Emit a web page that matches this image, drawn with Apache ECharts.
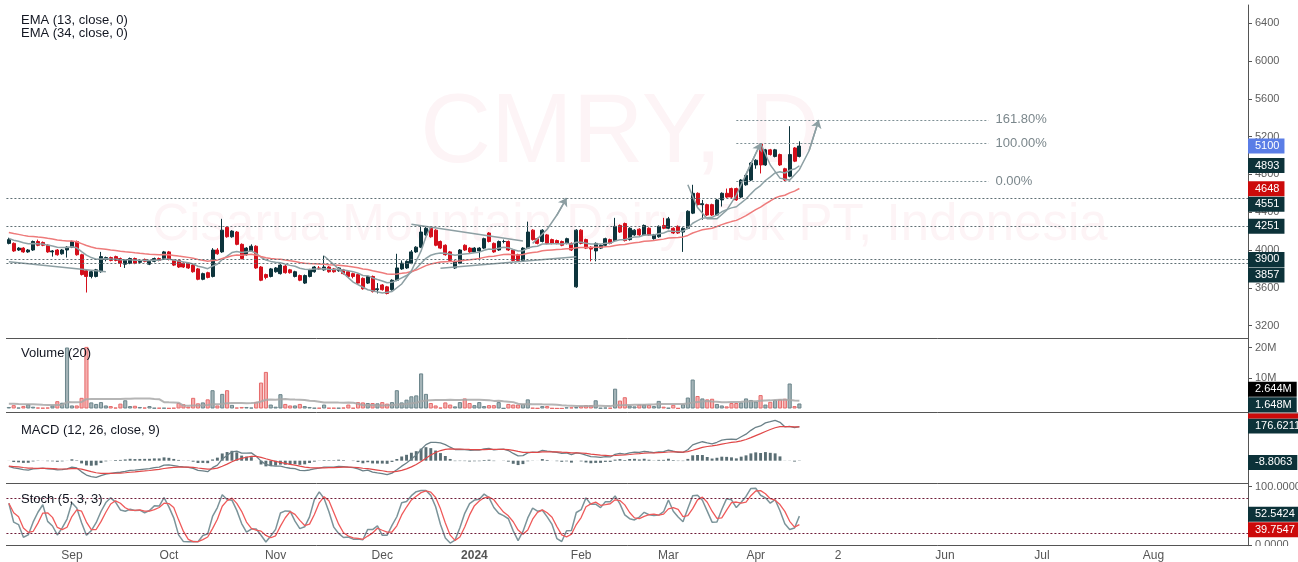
<!DOCTYPE html>
<html>
<head>
<meta charset="utf-8">
<title>CMRY, D</title>
<script src="https://cdn.jsdelivr.net/npm/echarts@6/dist/echarts.min.js"></script>
<style>
  html, body { margin: 0; padding: 0; background: #fff; }
  #chart { width: 1298px; height: 562px; }
</style>
</head>
<body>
<div id="chart"></div>
<script>
// daily bars, 14 Aug 2023 .. Apr 2024
var opens = [4070,4070,4000,4020,3980,4000,4090,4080,4050,3980,4000,3960,4000,4030,4090,3950,3780,3720,3720,3770,
  3900,3920,3930,3910,3850,3860,3910,3870,3900,3850,3880,3910,3910,3980,3890,3890,3860,3860,3840,3800,
  3690,3760,3720,4000,3980,4240,4140,4190,4060,3950,3990,4040,3820,3740,3720,3770,3750,3830,3790,3720,
  3730,3650,3720,3770,3810,3790,3820,3800,3780,3790,3770,3750,3740,3700,3650,3720,3580,3630,3610,3580,
  3680,3800,3810,3860,3980,4030,4160,4230,4210,4090,4050,3980,3810,3860,4050,4020,3980,3990,4020,4180,
  4070,4000,4090,4090,4000,3950,3890,4020,4210,4120,4090,4160,4110,4100,4090,4070,4070,3610,4210,4110,
  4030,3990,4020,4050,4110,4100,4260,4280,4110,4160,4220,4160,4230,4120,4140,4260,4230,4230,4250,4190,
  4230,4390,4600,4480,4480,4480,4370,4530,4600,4650,4650,4560,4690,4740,4900,5120,4900,5060,4990,5010,
  4860,4780,5080,4990];
var highs = [4130,4080,4030,4030,4010,4100,4110,4090,4060,4000,4010,4010,4040,4100,4100,3960,3790,3780,3800,3980,
  3930,3930,3940,3920,3900,3920,3920,3890,3910,3890,3920,3920,3990,3990,3900,3900,3870,3870,3850,3810,
  3760,3770,4020,4020,4330,4250,4210,4200,4070,4030,4060,4050,3830,3750,3810,3820,3850,3840,3800,3780,
  3740,3740,3800,3830,3830,3940,3830,3810,3820,3800,3780,3760,3750,3710,3730,3730,3650,3640,3620,3690,
  3960,3890,3890,4000,4040,4250,4250,4250,4220,4100,4060,3990,3890,4010,4060,4030,4030,4030,4130,4190,
  4080,4100,4110,4100,4010,3960,4030,4300,4220,4130,4220,4170,4120,4110,4100,4130,4080,4220,4220,4120,
  4040,4080,4060,4130,4120,4340,4270,4290,4240,4220,4230,4270,4240,4170,4260,4340,4350,4240,4260,4240,
  4420,4690,4610,4530,4490,4490,4540,4610,4650,4660,4660,4750,4800,4930,4960,5130,5070,5070,5070,5020,
  4870,5310,5090,5150];
var lows = [4060,3980,3990,3970,3970,3990,4040,4040,3970,3930,3940,3950,3920,4020,3940,3730,3550,3700,3710,3760,
  3880,3880,3880,3820,3810,3850,3850,3860,3870,3840,3870,3880,3900,3890,3830,3810,3810,3800,3760,3680,
  3680,3700,3710,3950,3970,4130,4130,4050,3900,3940,3980,3800,3670,3690,3710,3760,3740,3750,3750,3710,
  3670,3640,3710,3760,3790,3780,3760,3760,3770,3740,3710,3700,3640,3580,3640,3550,3540,3570,3530,3570,
  3670,3790,3800,3850,3970,4020,4150,4130,4040,4010,3940,3880,3800,3850,3990,3970,3970,3890,4010,4080,
  3970,3990,4070,3990,3880,3880,3880,4010,4100,4060,4080,4060,4060,4060,4040,4060,3990,3600,4060,4010,
  3880,3880,4010,4040,4060,4090,4180,4090,4100,4150,4150,4150,4150,4110,4130,4220,4220,4170,4170,3980,
  4220,4380,4470,4320,4360,4360,4360,4460,4550,4550,4520,4550,4680,4730,4860,4810,4890,5000,4980,4890,
  4730,4770,4930,4980];
var closes = [4110,3990,4020,3980,4000,4090,4050,4050,3980,3990,3950,4000,4030,4090,3950,3740,3720,3770,3790,3930,
  3920,3890,3890,3860,3890,3910,3860,3880,3880,3880,3910,3890,3980,3900,3840,3820,3820,3810,3770,3690,
  3750,3710,4000,3960,4210,4140,4200,4060,3910,4020,4040,3810,3680,3710,3800,3810,3840,3760,3760,3770,
  3680,3730,3790,3820,3800,3820,3770,3770,3810,3750,3720,3720,3650,3590,3720,3560,3590,3580,3540,3680,
  3810,3860,3880,3980,4030,4190,4230,4140,4050,4020,3950,3890,3880,4000,4000,3980,4020,4020,4120,4090,
  3980,4090,4090,4000,3890,3890,4020,4190,4110,4070,4210,4070,4070,4070,4050,4120,4000,4210,4070,4020,
  4010,4070,4050,4120,4070,4250,4190,4100,4230,4210,4160,4260,4160,4160,4250,4230,4330,4180,4180,4230,
  4410,4600,4480,4490,4370,4370,4530,4600,4560,4560,4530,4740,4790,4920,4950,4900,5060,5010,5060,4900,
  4740,5010,4940,5100];
// volume in millions of shares
var volumes = [0.5,1.1,0.3,0.8,1.4,0.6,0.3,0.2,0.3,1.0,2.4,1.9,20.0,1.0,1.0,3.5,20.2,2.0,1.5,2.1,
  1.0,0.8,0.3,1.6,2.7,0.8,0.9,0.5,0.3,0.8,0.2,0.2,0.2,0.1,0.2,1.8,1.4,0.6,3.5,1.7,
  2.0,3.0,6.0,1.0,4.8,6.0,1.2,0.3,0.5,0.5,0.3,2.2,8.5,12.0,1.3,0.6,4.7,1.5,1.0,1.0,
  1.5,0.8,0.5,0.2,0.2,1.3,0.2,0.2,0.2,0.3,1.3,0.2,2.1,2.0,1.8,1.8,1.7,2.1,1.6,2.1,
  6.0,2.0,2.9,4.0,4.3,11.5,4.8,1.8,1.0,0.3,2.0,1.3,0.7,2.1,3.3,1.8,1.1,2.1,0.8,1.1,
  1.1,2.1,0.1,1.5,1.3,1.3,1.5,3.0,0.2,0.1,0.8,0.8,0.1,0.05,0.05,0.4,0.4,0.5,0.8,1.1,
  1.1,2.7,0.2,0.3,0.2,6.5,2.6,3.7,1.0,0.7,1.3,1.3,1.2,0.8,2.5,0.6,0.2,1.2,0.1,1.4,
  3.6,9.5,4.1,3.3,3.0,3.2,1.5,1.0,0.7,1.8,1.8,2.0,3.3,2.8,2.3,4.4,1.3,2.2,2.8,3.0,
  3.2,8.2,0.8,1.648];

// values of the indicators just before the first visible bar
var ema13Seed = 4125, ema34Seed = 4190, ema12Seed = 4120, ema26Seed = 4150, signalSeed = -28, volMaSeed = 1.6;

var priceTicks = [3200, 3600, 4000, 4400, 4800, 5200, 5600, 6000, 6400];
var volTicks = [10, 20];
var stochTicks = [0, 100];
var levelLines = [4551, 4251, 3900, 3857];
var fibLevels = [[5377, '161.80%'], [5130, '100.00%'], [4730, '0.00%']];
var monthLabels = {13: 'Sep', 33: 'Oct', 55: 'Nov', 77: 'Dec', 96: '2024', 118: 'Feb', 136: 'Mar', 154: 'Apr',
  171: '2', 193: 'Jun', 213: 'Jul', 236: 'Aug'};

// hand drawn annotations, [bar index, price]
var plainDrawings = [
  [[0, 3876], [20, 3770]],
  [[83, 4272], [106, 4095]],
  [[89, 3806], [117, 3929]],
  [[65, 3936], [68, 3800], [71, 3660], [74, 3580], [77, 3545], [79, 3560], [81, 3640], [83, 3780], [85, 3990], [86, 4140], [87, 4250]]
];
var arrowDrawings = [
  [[108, 4070], [111, 4220], [113, 4370], [115, 4550]],
  [[140, 4690], [142, 4450], [144, 4330], [146, 4330], [148, 4420], [150, 4580], [152, 4800], [155, 5130]],
  [[155, 5130], [157, 4900], [159, 4760], [161, 4740], [163, 4850], [165, 5050], [167, 5376]]
];

var priceMarks = [[5100, '5100', '#5a7de6'], [4893, '4893', '#0c3239'], [4648, '4648', '#cc0a0a'],
  [4551, '4551', '#0c3239'], [4251, '4251', '#0c3239'], [3900, '3900', '#0c3239'], [3857, '3857', '#0c3239']];
var volMarks = [[2.644, '2.644M', '#000000'], [1.648, '1.648M', '#0c3239']];
var macdMarks = [[176.6211, '176.6211', '#0c3239'], [-8.8063, '-8.8063', '#0c3239']];
var stochMarks = [[52.5424, '52.5424', '#0c3239'], [39.7547, '39.7547', '#cc0a0a']];

var FONT = '"Liberation Sans", Arial, sans-serif';
var UP = '#0d343c', DOWN = '#d40f1b';
var SLOTS = 256;
var cats = [];
for (var s = 0; s < SLOTS; s++) cats.push(String(s));

function ema(src, n, seed) {
  var k = 2 / (n + 1), prev = seed;
  return src.map(function (v) { prev = prev + k * (v - prev); return prev; });
}
function smaPartial(src, n) {
  return src.map(function (v, i) {
    var a = src.slice(Math.max(0, i - n + 1), i + 1);
    return a.reduce(function (x, y) { return x + y; }, 0) / a.length;
  });
}

var ema13 = ema(closes, 13, ema13Seed);
var ema34 = ema(closes, 34, ema34Seed);
var ema12 = ema(closes, 12, ema12Seed);
var ema26 = ema(closes, 26, ema26Seed);
var macd = ema12.map(function (v, i) { return v - ema26[i]; });
var signal = ema(macd, 9, signalSeed);
var hist = macd.map(function (v, i) { return v - signal[i]; });
var rawK = closes.map(function (c, i) {
  var st = Math.max(0, i - 4);
  var hh = Math.max.apply(null, highs.slice(st, i + 1));
  var ll = Math.min.apply(null, lows.slice(st, i + 1));
  return hh === ll ? 50 : (c - ll) / (hh - ll) * 100;
});
var stochK = smaPartial(rawK, 3);
var stochD = smaPartial(stochK, 3);
var volMA = volumes.map(function (v, i) {
  var sum = 0;
  for (var j = i - 19; j <= i; j++) sum += j < 0 ? volMaSeed : volumes[j];
  return sum / 20;
});

var candles = opens.map(function (o, i) { return [o, closes[i], lows[i], highs[i]]; });
var volBars = volumes.map(function (v, i) {
  var up = closes[i] >= opens[i];
  return { value: v, itemStyle: up
    ? { color: 'rgba(90,118,126,0.55)', borderColor: '#6b858b', borderWidth: 1 }
    : { color: 'rgba(236,110,110,0.55)', borderColor: '#e66a6a', borderWidth: 1 } };
});
// the last leg of every arrow drawing carries the arrow head
var arrowHeads = arrowDrawings.map(function (p) { return { coords: [p[p.length - 2], p[p.length - 1]] }; });

var chart = echarts.init(document.getElementById('chart'), null, { renderer: 'canvas' });

var L = 6.42, R = 50;
function gridAt(top, height) {
  return { left: L, right: R, top: top, height: height, containLabel: false, outerBoundsMode: 'none' };
}
function xAx(k, withLabels) {
  return {
    type: 'category', gridIndex: k, data: cats, boundaryGap: true, position: 'bottom',
    axisLine: { show: true, onZero: false, lineStyle: { color: '#555', width: 1 } },
    axisTick: { show: false },
    splitLine: { show: false },
    axisLabel: withLabels ? {
      show: true,
      interval: function (idx) { return monthLabels[idx] !== undefined; },
      formatter: function (v, idx) { var t = monthLabels[idx] || ''; return t === '2024' ? '{y|2024}' : t; },
      color: '#555', fontSize: 12, margin: 4, fontFamily: FONT,
      rich: { y: { fontWeight: 'bold', color: '#555', fontSize: 12, fontFamily: FONT } }
    } : { show: false }
  };
}
function yAx(k, min, max, ticks, fmt) {
  return {
    type: 'value', gridIndex: k, position: 'right', min: min, max: max,
    axisLine: { show: true, onZero: false, lineStyle: { color: '#555', width: 1 } },
    axisTick: ticks ? { show: true, length: 4, lineStyle: { color: '#555' }, customValues: ticks } : { show: false },
    axisLabel: ticks ? { show: true, color: '#5e5e5e', fontSize: 11, margin: 7, fontFamily: FONT, customValues: ticks, formatter: fmt } : { show: false },
    splitLine: { show: false }
  };
}

var dash = [2, 2];
var option = {
  animation: false,
  backgroundColor: '#ffffff',
  grid: [gridAt(5, 333), gridAt(338, 74.5), gridAt(413, 70), gridAt(483.3, 62.4)],
  xAxis: [xAx(0, false), xAx(1, false), xAx(2, false), xAx(3, true)],
  yAxis: [
    yAx(0, 3068.8, 6592.6, priceTicks, function (v) { return String(v); }),
    yAx(1, -1.31, 23.11, volTicks, function (v) { return v + 'M'; }),
    yAx(2, -113.5, 242.7, null),
    yAx(3, -1.2, 105.65, stochTicks, function (v) { return v.toFixed(4); })
  ],
  graphic: [
    { type: 'text', x: 620, y: 135, z: -5, silent: true, style: { text: 'CMRY, D', fill: '#fdf4f6', font: '98px ' + FONT, align: 'center', verticalAlign: 'middle' } },
    { type: 'text', x: 630, y: 226, z: -5, silent: true, style: { text: 'Cisarua Mountain Dairy Tbk PT, Indonesia', fill: '#fdf4f6', font: '51px ' + FONT, align: 'center', verticalAlign: 'middle' } },
    { type: 'text', x: 21, y: 20, z: 50, style: { text: 'EMA (13, close, 0)', fill: '#131722', font: '13px ' + FONT, verticalAlign: 'middle' } },
    { type: 'text', x: 21, y: 33, z: 50, style: { text: 'EMA (34, close, 0)', fill: '#131722', font: '13px ' + FONT, verticalAlign: 'middle' } },
    { type: 'text', x: 21, y: 353, z: 50, style: { text: 'Volume (20)', fill: '#131722', font: '13px ' + FONT, verticalAlign: 'middle' } },
    { type: 'text', x: 21, y: 430, z: 50, style: { text: 'MACD (12, 26, close, 9)', fill: '#131722', font: '13px ' + FONT, verticalAlign: 'middle' } },
    { type: 'text', x: 21, y: 499, z: 50, style: { text: 'Stoch (5, 3, 3)', fill: '#131722', font: '13px ' + FONT, verticalAlign: 'middle' } },
    { type: 'line', z: 50, silent: true, shape: { x1: 1248, y1: 413, x2: 1298, y2: 413 }, style: { stroke: '#555', lineWidth: 1 } }
  ],
  series: [
    {
      name: 'CMRY', type: 'candlestick', xAxisIndex: 0, yAxisIndex: 0, data: candles, barWidth: '72%',
      itemStyle: { color: UP, color0: DOWN, borderColor: UP, borderColor0: DOWN, borderWidth: 1 },
      markLine: {
        silent: true, symbol: ['none', 'none'], label: { show: false },
        lineStyle: { color: '#5f6f74', type: dash, width: 1 },
        data: levelLines.map(function (v) { return { yAxis: v }; })
      }
    },
    { name: 'EMA13', type: 'line', xAxisIndex: 0, yAxisIndex: 0, data: ema13, showSymbol: false, lineStyle: { color: '#8ea2a6', width: 1.5 }, z: 3 },
    {
      name: 'EMA34', type: 'line', xAxisIndex: 0, yAxisIndex: 0, data: ema34, showSymbol: false, lineStyle: { color: '#ee7b7b', width: 1.5 }, z: 3,
      markLine: {
        silent: true, symbol: ['none', 'none'],
        lineStyle: { color: '#7d8f94', type: dash, width: 1 },
        label: { show: true, position: 'end', distance: 7, color: '#7b878c', fontSize: 13, fontFamily: FONT, formatter: function (p) { return p.name; } },
        data: fibLevels.map(function (f) { return [{ name: f[1], coord: ['150', f[0]] }, { coord: ['202', f[0]] }]; })
      }
    },
    {
      type: 'lines', coordinateSystem: 'cartesian2d', xAxisIndex: 0, yAxisIndex: 0, polyline: true, silent: true, z: 4,
      symbol: ['none', 'none'], lineStyle: { color: '#8d9fa3', width: 1.5, opacity: 1 },
      data: plainDrawings.concat(arrowDrawings).map(function (p) { return { coords: p }; })
    },
    {
      type: 'lines', coordinateSystem: 'cartesian2d', xAxisIndex: 0, yAxisIndex: 0, polyline: false, silent: true, z: 4,
      symbol: ['none', 'arrow'], symbolSize: 8, lineStyle: { color: '#8d9fa3', width: 1.5, opacity: 1, curveness: 0 },
      data: arrowHeads
    },
    { name: 'Volume', type: 'bar', xAxisIndex: 1, yAxisIndex: 1, data: volBars, barWidth: '85%' },
    { name: 'Vol MA', type: 'line', xAxisIndex: 1, yAxisIndex: 1, data: volMA, showSymbol: false, lineStyle: { color: '#a8a8a8', width: 2, opacity: 0.85 }, z: 3 },
    { name: 'Histogram', type: 'bar', xAxisIndex: 2, yAxisIndex: 2, data: hist, barWidth: '60%', itemStyle: { color: '#5a6e74' } },
    { name: 'MACD', type: 'line', xAxisIndex: 2, yAxisIndex: 2, data: macd, showSymbol: false, lineStyle: { color: '#6b8188', width: 1.3 }, z: 3 },
    { name: 'Signal', type: 'line', xAxisIndex: 2, yAxisIndex: 2, data: signal, showSymbol: false, lineStyle: { color: '#e04848', width: 1.2 }, z: 3 },
    {
      name: '%K', type: 'line', xAxisIndex: 3, yAxisIndex: 3, data: stochK, showSymbol: false, lineStyle: { color: '#7b949a', width: 1.5 }, z: 3,
      markLine: {
        silent: true, symbol: ['none', 'none'], label: { show: false },
        lineStyle: { color: '#6d1a36', type: dash, width: 1 },
        data: [{ yAxis: 80 }, { yAxis: 20 }]
      }
    },
    { name: '%D', type: 'line', xAxisIndex: 3, yAxisIndex: 3, data: stochD, showSymbol: false, lineStyle: { color: '#ef5a5a', width: 1.3 }, z: 3 }
  ]
};
chart.setOption(option);

// value boxes on the right scale
var measureCtx = document.createElement('canvas').getContext('2d');
measureCtx.font = '11px ' + FONT;
var boxes = [];
function placeMarks(marks, axisIdx, bottom) {
  var H = 15.5;
  var items = marks.map(function (m) {
    return { y: chart.convertToPixel({ yAxisIndex: axisIdx }, m[0]), text: m[1], color: m[2] };
  });
  items.sort(function (a, b) { return a.y - b.y; });
  for (var i = 1; i < items.length; i++) {
    if (items[i].y - items[i - 1].y < H) items[i].y = items[i - 1].y + H;
  }
  var over = items.length ? items[items.length - 1].y + H / 2 - bottom : 0;
  items.forEach(function (it) {
    if (over > 0) it.y -= over;
    var w = measureCtx.measureText(it.text).width;
    boxes.push({ type: 'rect', z: 100, silent: true, shape: { x: 1248, y: it.y - 7.5, width: w + 12, height: 15 }, style: { fill: it.color } });
    boxes.push({ type: 'text', z: 101, silent: true, x: 1255, y: it.y, style: { text: it.text, fill: '#ffffff', font: '11px ' + FONT, verticalAlign: 'middle' } });
  });
}
placeMarks(priceMarks, 0, 338);
placeMarks(volMarks, 1, 412.5);
placeMarks(macdMarks, 2, 483);
placeMarks(stochMarks, 3, 545.7);
// signal label pushed up behind the volume pane, only its lower edge shows
boxes.push({ type: 'rect', z: 100, silent: true, shape: { x: 1248, y: 413.5, width: 50, height: 5 }, style: { fill: '#cc0a0a' } });
// the 0.0000 label is cut by the time scale strip
boxes.push({ type: 'rect', z: 99, silent: true, shape: { x: 1249, y: 546, width: 49, height: 16 }, style: { fill: '#ffffff' } });

chart.setOption({ graphic: option.graphic.concat(boxes) });

window.onresize = chart.resize;
</script>
</body>
</html>
